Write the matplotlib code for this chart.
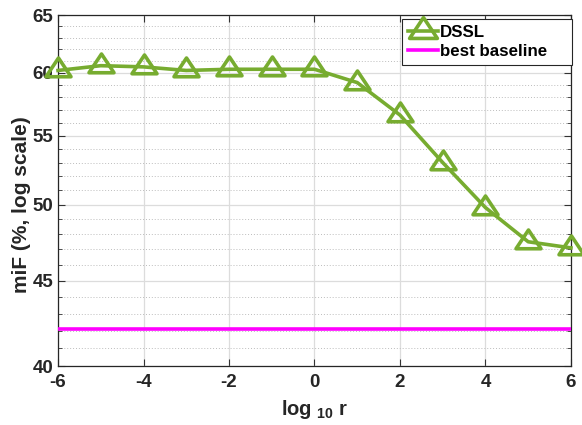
import matplotlib
matplotlib.use("Agg")
import matplotlib.pyplot as plt
import numpy as np
from matplotlib.ticker import FixedLocator, NullFormatter
from matplotlib.path import Path

plt.rcParams['font.family'] = ['Liberation Sans', 'DejaVu Sans']
plt.rcParams['font.weight'] = 'bold'
plt.rcParams['mathtext.fontset'] = 'custom'
plt.rcParams['mathtext.rm'] = 'Liberation Sans:bold'
plt.rcParams['mathtext.bf'] = 'Liberation Sans:bold'

log_r = [-6, -5, -4, -3, -2, -1, 0, 1, 2, 3, 4, 5, 6]
dssl = [60.2, 60.6, 60.5, 60.2, 60.3, 60.3, 60.3, 59.2, 56.6, 53.0, 49.8, 47.5, 47.1]
best_baseline = 42.1
y_ticks = [40, 45, 50, 55, 60, 65]
x_ticks = [-6, -4, -2, 0, 2, 4, 6]

green = '#77AC30'
# wide triangle marker (MATLAB style), centred on its centroid
tri = Path([(0, 1.0), (-1, -0.5), (1, -0.5), (0, 1.0)],
           [Path.MOVETO, Path.LINETO, Path.LINETO, Path.CLOSEPOLY])

fig = plt.figure(figsize=(5.82, 4.25), dpi=100)
ax = fig.add_axes([0.0997, 0.1388, 0.8813, 0.8259])

ax.set_yscale('log')
ax.plot(log_r, dssl, color=green, lw=2.6, marker=tri, ms=18, mfc='none',
        mec=green, mew=2.6, label='DSSL', clip_on=False, zorder=3)
ax.plot([log_r[0], log_r[-1]], [best_baseline, best_baseline], color='#FF00FF',
        lw=2.6, label='best baseline    ', zorder=3)

ax.set_xlim(-6, 6)
ax.set_ylim(40, 65)
ax.yaxis.set_major_locator(FixedLocator(y_ticks))
ax.set_yticklabels([str(v) for v in y_ticks])
ax.yaxis.set_minor_locator(FixedLocator([v for v in range(40, 66) if v % 5 != 0]))
ax.yaxis.set_minor_formatter(NullFormatter())
ax.set_xticks(x_ticks)
ax.set_xticklabels([str(v) for v in x_ticks])

ax.grid(True, which='major', color='#dcdcdc', lw=0.9, ls='-')
ax.grid(True, which='minor', axis='y', color='#bdbdbd', lw=0.7, ls=(0, (1, 2)))
ax.set_axisbelow(True)

ax.tick_params(which='both', direction='in', top=True, right=True, labelsize=13.5, color='#333333')
ax.tick_params(which='major', length=5, width=0.8)
ax.tick_params(which='minor', length=3, width=0.6)
ax.tick_params(axis='x', pad=6)
ax.tick_params(axis='y', pad=3.5)
for lab in ax.get_xticklabels() + ax.get_yticklabels():
    lab.set_fontweight('bold')
    lab.set_color('#262626')
for s in ax.spines.values():
    s.set_color('#262626')
    s.set_linewidth(0.9)

ax.set_xlabel(r'log $_{\mathbf{10}}$ r', fontsize=14.5, fontweight='bold', color='#262626')
ax.xaxis.set_label_coords(0.5, -0.09)
ax.set_ylabel('miF (%, log scale)', fontsize=15, fontweight='bold', color='#262626')
ax.yaxis.set_label_coords(-0.052, 0.459)

leg = ax.legend(loc='upper right', bbox_to_anchor=(1.002, 0.988), fontsize=12.2, frameon=True,
                fancybox=False, edgecolor='#262626', framealpha=1, handlelength=1.8,
                handletextpad=0.1, borderpad=0.35, labelspacing=0.25, borderaxespad=0)
leg.get_frame().set_linewidth(0.8)
for t in leg.get_texts():
    t.set_fontweight('bold')
    t.set_color('black')
leg.legend_handles[0].set_markersize(20)

fig.savefig('out.png', dpi=100)
